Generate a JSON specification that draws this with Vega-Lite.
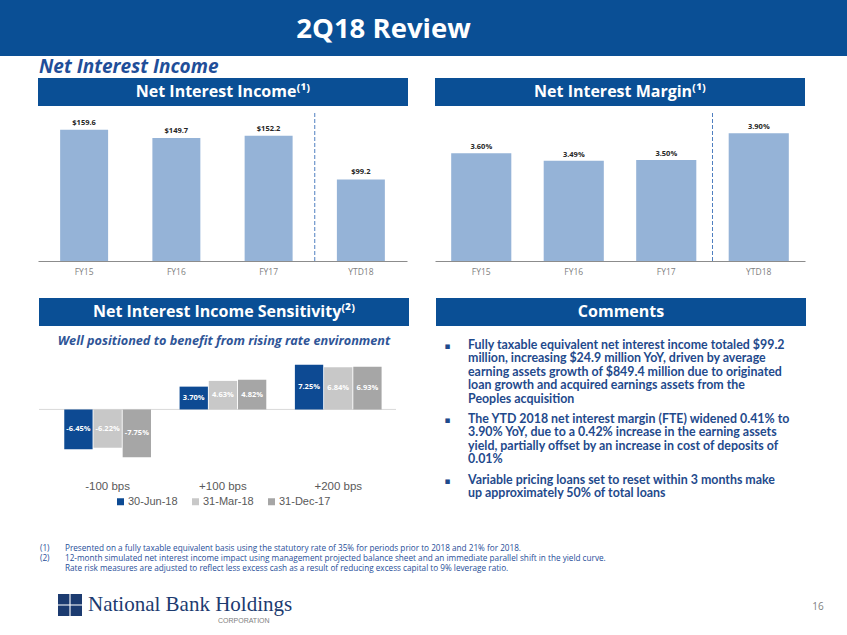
{
  "$schema": "https://vega.github.io/schema/vega-lite/v6.json",
  "background": "white",
  "padding": 0,
  "spacing": 0,
  "config": {
    "view": {"stroke": null},
    "concat": {"spacing": 0},
    "axis": {"grid": false},
    "locale": {"number": {"decimal": ".", "thousands": ",", "grouping": [3], "currency": ["$", ""], "minus": "-"}}
  },
  "datasets": {
    "nii": [
      {"period": "FY15", "value": 159.6},
      {"period": "FY16", "value": 149.7},
      {"period": "FY17", "value": 152.2},
      {"period": "YTD18", "value": 99.2}
    ],
    "nim": [
      {"period": "FY15", "value": 0.036},
      {"period": "FY16", "value": 0.0349},
      {"period": "FY17", "value": 0.035},
      {"period": "YTD18", "value": 0.039}
    ],
    "sens": [
      {"scenario": "-100 bps", "period": "30-Jun-18", "value": -0.0645},
      {"scenario": "-100 bps", "period": "31-Mar-18", "value": -0.0622},
      {"scenario": "-100 bps", "period": "31-Dec-17", "value": -0.0775},
      {"scenario": "+100 bps", "period": "30-Jun-18", "value": 0.037},
      {"scenario": "+100 bps", "period": "31-Mar-18", "value": 0.0463},
      {"scenario": "+100 bps", "period": "31-Dec-17", "value": 0.0482},
      {"scenario": "+200 bps", "period": "30-Jun-18", "value": 0.0725},
      {"scenario": "+200 bps", "period": "31-Mar-18", "value": 0.0684},
      {"scenario": "+200 bps", "period": "31-Dec-17", "value": 0.0693}
    ],
    "logo": [
      {"r": "a", "c": "a"}, {"r": "a", "c": "b"}, {"r": "b", "c": "a"}, {"r": "b", "c": "b"}
    ]
  },
  "vconcat": [
    {
      "width": 847, "height": 56,
      "view": {"fill": "#0A4F95", "stroke": null},
      "data": {"values": [{}]},
      "mark": {"type": "text", "text": "2Q18 Review", "font": "Open Sans", "fontWeight": "bold", "fontSize": 27.5, "color": "white", "dx": -40, "dy": 2},
      "encoding": {}
    },
    {
      "width": 847, "height": 22,
      "data": {"values": [{}]},
      "mark": {"type": "text", "text": "Net Interest Income", "font": "Open Sans", "fontWeight": "bold", "fontStyle": "italic", "fontSize": 19, "color": "#1F4E99", "align": "left", "baseline": "middle"},
      "encoding": {"x": {"value": 39}}
    },
    {
      "hconcat": [
        {"width": 38, "height": 1, "data": {"values": []}, "mark": "point", "encoding": {}},
        {
          "vconcat": [
            {
              "width": 370, "height": 28,
              "view": {"fill": "#0A4F95", "stroke": null},
              "data": {"values": [{}]},
              "mark": {"type": "text", "text": "Net Interest Income⁽¹⁾", "font": "Open Sans", "fontWeight": "bold", "fontSize": 16, "color": "white"},
              "encoding": {}
            },
            {
              "width": 369, "height": 148,
              "data": {"name": "nii"},
              "layer": [
                {
                  "mark": {"type": "bar", "color": "#95B3D7"},
                  "encoding": {
                    "x": {"field": "period", "type": "nominal", "sort": ["FY15", "FY16", "FY17", "YTD18"],
                      "scale": {"paddingInner": 0.48, "paddingOuter": 0.24},
                      "axis": {"title": null, "ticks": false, "labelAngle": 0, "labelFont": "Open Sans", "labelFontSize": 8.5, "labelColor": "#808080", "labelPadding": 6, "domainColor": "#8C8C8C"}},
                    "y": {"field": "value", "type": "quantitative", "scale": {"domain": [0, 180]}, "axis": null}
                  }
                },
                {
                  "mark": {"type": "text", "baseline": "bottom", "dy": -3, "font": "Open Sans", "fontSize": 7.5, "fontWeight": "bold", "color": "#262626"},
                  "encoding": {
                    "x": {"field": "period", "type": "nominal", "sort": ["FY15", "FY16", "FY17", "YTD18"]},
                    "y": {"field": "value", "type": "quantitative"},
                    "text": {"field": "value", "type": "quantitative", "format": "$.1f"}
                  }
                },
                {
                  "data": {"values": [{}]},
                  "mark": {"type": "rule", "color": "#4F7FC0", "strokeDash": [4, 2], "strokeWidth": 1},
                  "encoding": {"x": {"datum": "YTD18", "type": "nominal", "bandPosition": -0.4615}}
                }
              ]
            }
          ],
          "spacing": 6
        },
        {"width": 27, "height": 1, "data": {"values": []}, "mark": "point", "encoding": {}},
        {
          "vconcat": [
            {
              "width": 370, "height": 28,
              "view": {"fill": "#0A4F95", "stroke": null},
              "data": {"values": [{}]},
              "mark": {"type": "text", "text": "Net Interest Margin⁽¹⁾", "font": "Open Sans", "fontWeight": "bold", "fontSize": 16, "color": "white"},
              "encoding": {}
            },
            {
              "width": 370, "height": 148,
              "data": {"name": "nim"},
              "layer": [
                {
                  "mark": {"type": "bar", "color": "#95B3D7"},
                  "encoding": {
                    "x": {"field": "period", "type": "nominal", "sort": ["FY15", "FY16", "FY17", "YTD18"],
                      "scale": {"paddingInner": 0.35, "paddingOuter": 0.175},
                      "axis": {"title": null, "ticks": false, "labelAngle": 0, "labelFont": "Open Sans", "labelFontSize": 8.5, "labelColor": "#808080", "labelPadding": 6, "domainColor": "#8C8C8C"}},
                    "y": {"field": "value", "type": "quantitative", "scale": {"domain": [0.02, 0.0413], "zero": false, "clamp": true}, "axis": null}
                  }
                },
                {
                  "mark": {"type": "text", "baseline": "bottom", "dy": -2, "font": "Open Sans", "fontSize": 7.5, "fontWeight": "bold", "color": "#262626"},
                  "encoding": {
                    "x": {"field": "period", "type": "nominal", "sort": ["FY15", "FY16", "FY17", "YTD18"]},
                    "y": {"field": "value", "type": "quantitative"},
                    "text": {"field": "value", "type": "quantitative", "format": ".2%"}
                  }
                },
                {
                  "data": {"values": [{}]},
                  "mark": {"type": "rule", "color": "#4F7FC0", "strokeDash": [4, 2], "strokeWidth": 1},
                  "encoding": {"x": {"datum": "YTD18", "type": "nominal", "bandPosition": -0.269}}
                }
              ]
            }
          ],
          "spacing": 6
        }
      ],
      "spacing": 0
    },
    {"width": 1, "height": 22, "data": {"values": []}, "mark": "point", "encoding": {}},
    {
      "hconcat": [
        {"width": 38, "height": 1, "data": {"values": []}, "mark": "point", "encoding": {}},
        {
          "vconcat": [
            {
              "width": 370, "height": 28,
              "view": {"fill": "#0A4F95", "stroke": null},
              "data": {"values": [{}]},
              "mark": {"type": "text", "text": "Net Interest Income Sensitivity⁽²⁾", "font": "Open Sans", "fontWeight": "bold", "fontSize": 16, "color": "white"},
              "encoding": {}
            },
            {
              "width": 370, "height": 28,
              "data": {"values": [{}]},
              "mark": {"type": "text", "text": "Well positioned to benefit from rising rate environment", "font": "Open Sans", "fontWeight": "bold", "fontStyle": "italic", "fontSize": 12.7, "color": "#2F5597", "dy": 1},
              "encoding": {}
            },
            {
              "width": 357, "height": 117,
              "data": {"name": "sens"},
              "resolve": {"scale": {"y": "independent"}},
              "layer": [
                {
                  "data": {"values": [{}]},
                  "mark": {"type": "rule", "color": "#D9D9D9", "strokeWidth": 1},
                  "encoding": {"y": {"datum": 0, "type": "quantitative", "scale": {"domain": [-0.1, 0.09]}, "axis": null}}
                },
                {
                  "mark": {"type": "bar"},
                  "encoding": {
                    "x": {"field": "scenario", "type": "nominal", "sort": ["-100 bps", "+100 bps", "+200 bps"],
                      "scale": {"paddingInner": 0.248, "paddingOuter": 0.172, "align": 0.637},
                      "axis": {"title": null, "domain": false, "ticks": false, "labelAngle": 0, "labelFont": "Liberation Sans", "labelFontSize": 11.5, "labelColor": "#595959", "labelPadding": 9}},
                    "xOffset": {"field": "period", "type": "nominal", "sort": ["30-Jun-18", "31-Mar-18", "31-Dec-17"], "scale": {"paddingInner": 0.03}},
                    "y": {"field": "value", "type": "quantitative", "scale": {"domain": [-0.1, 0.09]}, "axis": null},
                    "color": {"field": "period", "type": "nominal",
                      "scale": {"domain": ["30-Jun-18", "31-Mar-18", "31-Dec-17"], "range": ["#0D4A93", "#C8C8C8", "#A6A6A6"]},
                      "legend": {"title": null, "orient": "none", "direction": "horizontal", "legendX": 115, "legendY": 496, "symbolType": "square", "symbolSize": 49, "symbolStrokeWidth": 0, "labelFont": "Liberation Sans", "labelFontSize": 11, "labelColor": "#595959", "labelOffset": 2, "columnPadding": 12}}
                  }
                },
                {
                  "mark": {"type": "text", "baseline": "middle", "font": "Open Sans", "fontSize": 7.5, "fontWeight": "bold", "color": "white"},
                  "encoding": {
                    "x": {"field": "scenario", "type": "nominal", "sort": ["-100 bps", "+100 bps", "+200 bps"]},
                    "xOffset": {"field": "period", "type": "nominal", "sort": ["30-Jun-18", "31-Mar-18", "31-Dec-17"]},
                    "y": {"field": "value", "type": "quantitative", "scale": {"domain": [-0.2, 0.18]}, "axis": null},
                    "text": {"field": "value", "type": "quantitative", "format": ".2%"}
                  }
                }
              ]
            }
          ],
          "spacing": 0
        },
        {"width": 27, "height": 1, "data": {"values": []}, "mark": "point", "encoding": {}},
        {
          "vconcat": [
            {
              "width": 370, "height": 28,
              "view": {"fill": "#0A4F95", "stroke": null},
              "data": {"values": [{}]},
              "mark": {"type": "text", "text": "Comments", "font": "Open Sans", "fontWeight": "bold", "fontSize": 16, "color": "white"},
              "encoding": {}
            },
            {
              "width": 370, "height": 200,
              "data": {"values": [{}]},
              "layer": [
                {
                  "mark": {"type": "text", "text": "▪", "font": "DejaVu Sans", "fontSize": 9, "color": "#1F4A8C", "align": "center", "baseline": "middle"},
                  "encoding": {"x": {"value": 11.5}, "y": {"value": 19.5}}
                },
                {
                  "mark": {"type": "text", "text": "▪", "font": "DejaVu Sans", "fontSize": 9, "color": "#1F4A8C", "align": "center", "baseline": "middle"},
                  "encoding": {"x": {"value": 11.5}, "y": {"value": 93.5}}
                },
                {
                  "mark": {"type": "text", "text": "▪", "font": "DejaVu Sans", "fontSize": 9, "color": "#1F4A8C", "align": "center", "baseline": "middle"},
                  "encoding": {"x": {"value": 11.5}, "y": {"value": 154.5}}
                },
                {
                  "mark": {"type": "text", "text": "Fully taxable equivalent net interest income totaled $99.2\nmillion, increasing $24.9 million YoY, driven by average\nearning assets growth of $849.4 million due to originated\nloan growth and acquired earnings assets from the\nPeoples acquisition", "lineBreak": "\n", "lineHeight": 13.5, "font": "Lato", "fontWeight": "bold", "fontSize": 12.4, "color": "#1F4A8C", "align": "left", "baseline": "line-top"},
                  "encoding": {"x": {"value": 32}, "y": {"value": 12.5}}
                },
                {
                  "mark": {"type": "text", "text": "The YTD 2018 net interest margin (FTE) widened 0.41% to\n3.90% YoY, due to a 0.42% increase in the earning assets\nyield, partially offset by an increase in cost of deposits of\n0.01%", "lineBreak": "\n", "lineHeight": 13.5, "font": "Lato", "fontWeight": "bold", "fontSize": 12.4, "color": "#1F4A8C", "align": "left", "baseline": "line-top"},
                  "encoding": {"x": {"value": 32}, "y": {"value": 86.5}}
                },
                {
                  "mark": {"type": "text", "text": "Variable pricing loans set to reset within 3 months make\nup approximately 50% of total loans", "lineBreak": "\n", "lineHeight": 13.5, "font": "Lato", "fontWeight": "bold", "fontSize": 12.4, "color": "#1F4A8C", "align": "left", "baseline": "line-top"},
                  "encoding": {"x": {"value": 32}, "y": {"value": 147.5}}
                }
              ]
            }
          ],
          "spacing": 0
        }
      ],
      "spacing": 0
    },
    {
      "width": 847, "height": 68,
      "data": {"values": [{}]},
      "layer": [
        {
          "mark": {"type": "text", "text": "(1)\n(2)", "lineBreak": "\n", "lineHeight": 10, "font": "Open Sans", "fontSize": 8.2, "color": "#1F4E99", "align": "left", "baseline": "line-top"},
          "encoding": {"x": {"value": 40}, "y": {"value": 18}}
        },
        {
          "mark": {"type": "text", "text": "Presented on a fully taxable equivalent basis using the statutory rate of 35% for periods prior to 2018 and 21% for 2018.\n12-month simulated net interest income impact using management projected balance sheet and an immediate parallel shift in the yield curve.\nRate risk measures are adjusted to reflect less excess cash as a result of reducing excess capital to 9% leverage ratio.", "lineBreak": "\n", "lineHeight": 10, "font": "Open Sans", "fontSize": 8.2, "color": "#1F4E99", "align": "left", "baseline": "line-top"},
          "encoding": {"x": {"value": 65}, "y": {"value": 18}}
        }
      ]
    },
    {
      "hconcat": [
        {"width": 58, "height": 1, "data": {"values": []}, "mark": "point", "encoding": {}},
        {
          "width": 24, "height": 22,
          "data": {"name": "logo"},
          "mark": {"type": "rect", "color": "#1C3B70"},
          "encoding": {
            "x": {"field": "c", "type": "nominal", "scale": {"paddingInner": 0.09, "paddingOuter": 0}, "axis": null},
            "y": {"field": "r", "type": "nominal", "scale": {"paddingInner": 0.09, "paddingOuter": 0}, "axis": null}
          }
        },
        {
          "width": 765, "height": 22,
          "data": {"values": [{}]},
          "layer": [
            {
              "mark": {"type": "text", "text": "National Bank Holdings", "font": "Liberation Serif", "fontSize": 21, "color": "#1C3B70", "align": "left", "baseline": "middle"},
              "encoding": {"x": {"value": 6}, "y": {"value": 11}}
            },
            {
              "mark": {"type": "text", "text": "CORPORATION", "font": "Liberation Sans", "fontSize": 7, "color": "#808080", "align": "left", "baseline": "middle"},
              "encoding": {"x": {"value": 136}, "y": {"value": 27}}
            },
            {
              "mark": {"type": "text", "text": "16", "font": "Open Sans", "fontSize": 10, "color": "#7F7F7F", "align": "center", "baseline": "middle"},
              "encoding": {"x": {"value": 736}, "y": {"value": 13}}
            }
          ]
        }
      ],
      "spacing": 0
    }
  ]
}
